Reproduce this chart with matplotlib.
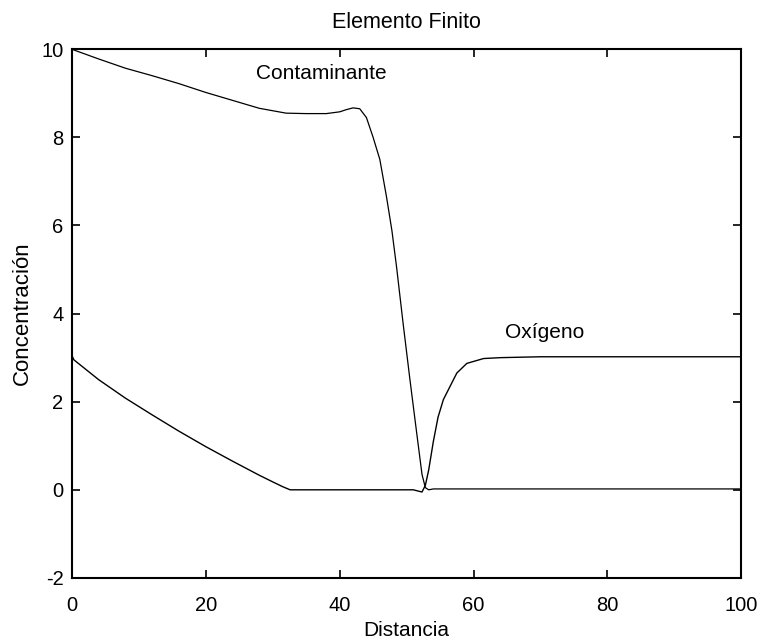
import matplotlib
matplotlib.use("Agg")
import matplotlib.pyplot as plt

plt.rcParams['font.family'] = ['Liberation Sans', 'DejaVu Sans']
plt.rcParams['axes.unicode_minus'] = False

# Contaminant concentration profile
x_cont = [0, 4, 8, 12, 16, 20, 24, 28, 32, 35, 38, 40, 41, 42, 43, 44, 45,
          46, 47, 47.8, 48.5, 49.5, 50.5, 51.5, 52.3, 52.8, 53.3, 54, 60,
          70, 80, 90, 100]
y_cont = [10.0, 9.78, 9.57, 9.4, 9.22, 9.02, 8.84, 8.66, 8.55, 8.54, 8.54,
          8.58, 8.63, 8.67, 8.65, 8.45, 8.0, 7.5, 6.65, 5.89, 5.06, 3.75,
          2.5, 1.3, 0.35, 0.05, 0.0, 0.02, 0.02, 0.02, 0.02, 0.02, 0.02]

# Oxygen concentration profile
x_oxy = [0, 0.3, 4, 8, 12, 16, 20, 24, 28, 30, 31.5, 32.6, 40, 48, 51,
         52.3, 52.8, 53.3, 54, 54.7, 55.5, 56.5, 57.5, 59, 61.5, 64, 70,
         80, 90, 100]
y_oxy = [3.05, 2.95, 2.5, 2.08, 1.7, 1.33, 0.98, 0.65, 0.33, 0.18, 0.07, 0.0,
         0.0, 0.0, 0.0, -0.05, 0.1, 0.45, 1.1, 1.65, 2.05, 2.35, 2.65, 2.87,
         2.98, 3.0, 3.02, 3.02, 3.02, 3.02]

x_ticks = [0, 20, 40, 60, 80, 100]
y_ticks = [-2, 0, 2, 4, 6, 8, 10]

fig = plt.figure(figsize=(7.65, 6.4), dpi=100)
ax = fig.add_axes([0.094, 0.097, 0.875, 0.826])

ax.plot(x_cont, y_cont, color='black', lw=0.9)
ax.plot(x_oxy, y_oxy, color='black', lw=1.0)

ax.set_xlim(0, 100)
ax.set_ylim(-2, 10)
ax.set_xticks(x_ticks)
ax.set_yticks(y_ticks)
ax.tick_params(direction='in', length=6, width=1.2, top=True, right=True,
               labelsize=14.5)
ax.tick_params(axis='x', pad=13)
ax.tick_params(axis='y', pad=6)
for s in ax.spines.values():
    s.set_linewidth(1.5)

ax.text(27.5, 9.45, 'Contaminante', fontsize=15, ha='left', va='center')
ax.text(64.7, 3.56, 'Oxígeno', fontsize=15, ha='left', va='center')

ax.set_title('Elemento Finito', fontsize=15.5, pad=15)
ax.set_xlabel('Distancia', fontsize=15, labelpad=4)
ax.set_ylabel('Concentración', fontsize=16, labelpad=6)

fig.savefig('out.png', dpi=100, facecolor='white')
